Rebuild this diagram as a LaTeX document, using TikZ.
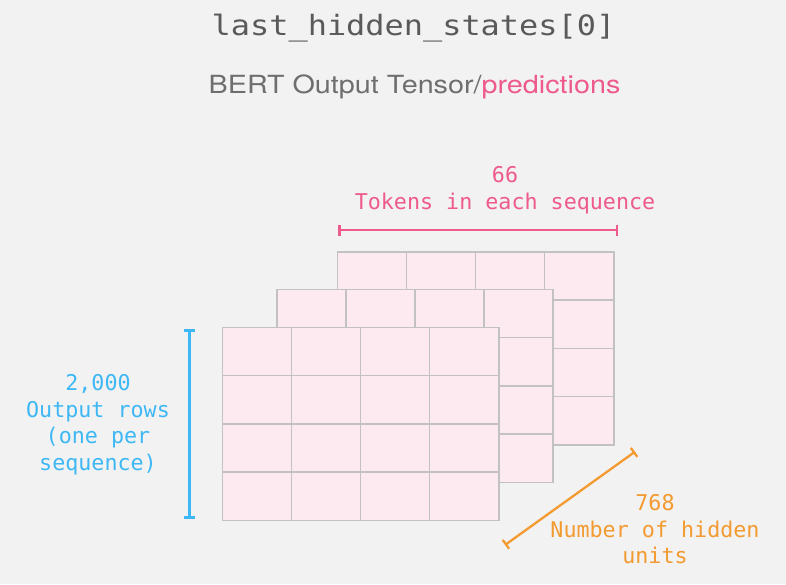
\documentclass[tikz,border=0pt]{standalone}
\usepackage{fontspec}
\usetikzlibrary{arrows.meta}
\setmainfont[FakeStretch=1.15]{TeX Gyre Heros}
\newfontfamily\titlefont[FakeStretch=1.14]{DejaVu Sans Mono}
\newfontfamily\dimfont{DejaVu Sans Mono}
\definecolor{bgc}{HTML}{F2F2F2}
\definecolor{cellfill}{HTML}{FCEAF0}
\definecolor{cellline}{HTML}{C2C2C2}
\definecolor{titlegray}{HTML}{5A5A5A}
\definecolor{subgray}{HTML}{6E6E6E}
\definecolor{pinkc}{HTML}{EE5A8C}
\definecolor{bluec}{HTML}{3DB8F5}
\definecolor{orangec}{HTML}{F39A30}
\begin{document}
\begin{tikzpicture}[x=1pt,y=-1pt,
  cellgrid/.style={draw=cellline,line width=1.6pt,fill=cellfill},
  cellline/.style={draw=cellline,line width=1.6pt},
  dimlabel/.style={font=\dimfont\fontsize{21.7}{26.5}\selectfont,align=center,inner sep=0pt},
  dimline/.style={line width=2.8pt,{Bar[width=11pt]}-{Bar[width=11pt]}}]
\fill[bgc] (0,0) rectangle (786,584);
\useasboundingbox (0,0) rectangle (786,584);
% title
\node[font=\titlefont\fontsize{28}{32}\selectfont,text=titlegray,inner sep=0pt] (title) at (413.5,28) {last\_hidden\_states[0]};
\node[font=\fontsize{25}{29}\selectfont,text=subgray,inner sep=0pt] (subtitle) at (414.5,87) {BERT Output Tensor/\textcolor{pinkc}{predictions}};
% grids (back to front)
\foreach \ox/\oy in {337.3/251.7, 276.7/289.3, 222.3/327.3} {
  \draw[cellgrid] (\ox,\oy) rectangle +(276.4,193.2);
  \foreach \i in {1,2,3} {
    \draw[cellline] (\ox+\i*69.1,\oy) -- ++(0,193.2);
    \draw[cellline] (\ox,\oy+\i*48.3) -- ++(276.4,0);
  }
}
% tokens dimension
\coordinate (tokA) at (338.3,230);
\coordinate (tokB) at (618.3,230);
\draw[dimline,pinkc] (tokA) -- (tokB);
\node[dimlabel,text=pinkc] (toklabel) at (505,190) {66\\Tokens in each sequence};
% rows dimension
\coordinate (rowA) at (189.3,329.3);
\coordinate (rowB) at (189.3,518.7);
\draw[dimline,bluec] (rowA) -- (rowB);
\node[dimlabel,text=bluec] (rowlabel) at (98,424.5) {2,000\\Output rows\\(one per\\sequence)};
% hidden units dimension
\coordinate (hidA) at (505,545);
\coordinate (hidB) at (635,451.7);
\draw[dimline,line width=2.3pt,orangec] (hidA) -- (hidB);
\node[dimlabel,text=orangec] (hidlabel) at (655,529.5) {768\\Number of hidden\\units};
\end{tikzpicture}
\end{document}
